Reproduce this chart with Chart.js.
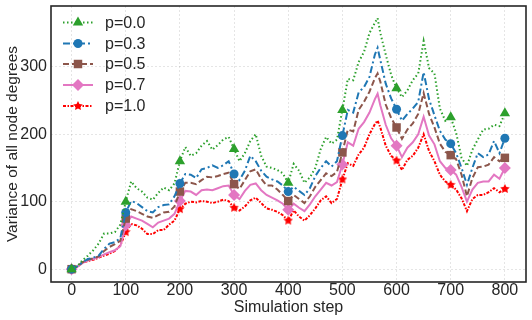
<!DOCTYPE html>
<html>
<head>
<meta charset="utf-8">
<script src="https://cdn.jsdelivr.net/npm/chart.js@4.4.1/dist/chart.umd.min.js"></script>
<style>
  html, body { margin: 0; padding: 0; background: #fff; }
  #wrap { width: 532px; height: 320px; }
</style>
</head>
<body>
<div id="wrap"><canvas id="grafico" width="532" height="320"></canvas></div>
<script>
// passos da simulacao (565 extra para o pico)
const steps = [0,10,20,30,40,50,60,70,80,90,100,110,120,130,140,150,160,170,180,190,200,
  210,220,230,240,250,260,270,280,290,300,310,320,330,340,350,360,370,380,390,400,
  410,420,430,440,450,460,470,480,490,500,510,520,530,540,550,560,565,570,580,590,600,
  610,620,630,640,650,660,670,680,690,700,710,720,730,740,750,760,770,780,790,800];

const p00 = [0,4,13,20,28,38,53,53,55,66,100,
  130,120,115,106,103,113,121,117,127,160,
  181,168,172,183,190,177,184,192,196,178,
  160,172,190,200,168,152,150,147,142,128,
  156,146,128,136,150,178,196,186,192,236,
  282,280,307,322,350,365,372,
  350,318,288,268,255,265,280,290,338,298,290,238,220,225,
  202,165,153,177,192,207,208,214,212,231];

const p03 = [0,4,10,15,17,20,30,38,40,46,84,
  101,98,92,86,84,92,95,96,108,127,
  141,140,135,148,150,154,150,154,160,141,
  132,146,168,160,146,137,133,130,124,115,
  122,116,110,120,138,150,160,152,160,198,
  236,232,262,270,285,318,328,
  310,275,253,237,220,230,238,248,292,252,228,205,192,186,
  172,150,125,150,172,166,170,190,172,194];

const p05 = [0,4,10,14,16,19,27,33,37,42,75,
  89,86,82,78,76,80,84,85,93,115,
  128,128,126,132,137,136,138,141,143,126,
  119,132,145,148,134,124,124,118,110,101,
  110,104,98,108,122,132,142,138,144,173,
  207,204,236,248,263,283,290,
  278,244,224,210,193,207,216,230,261,230,210,186,174,169,
  163,140,108,135,151,152,155,166,160,165];

const p07 = [0,3,9,13,15,18,22,25,28,34,65,
  78,75,72,67,62,69,72,75,82,101,
  116,115,110,117,118,117,120,123,124,110,
  104,116,125,127,117,110,106,102,97,88,
  97,91,86,96,108,118,128,124,129,155,
  188,183,208,218,232,252,260,
  243,214,194,183,166,180,188,200,226,198,185,160,150,147,
  140,122,100,118,128,130,130,140,134,150];

const p10 = [0,3,10,12,14,17,20,23,27,35,55,
  67,65,60,52,52,58,58,66,72,89,
  97,100,99,101,100,98,100,103,101,91,
  87,93,102,106,98,90,88,85,80,72,
  87,78,72,80,90,102,108,98,104,133,
  157,153,170,180,200,215,220,
  210,183,168,161,147,162,168,180,200,175,160,140,130,125,
  118,105,86,104,110,110,114,120,114,119];

const xTicks = [0,100,200,300,400,500,600,700,800];
const yTicks = [0,100,200,300];
const labels = ["p=0.0","p=0.3","p=0.5","p=0.7","p=1.0"];

// marcador estrela vermelho
function starMarker(color, size) {
  const c = document.createElement("canvas");
  c.width = size; c.height = size;
  const g = c.getContext("2d");
  const cx = size / 2, cy = size / 2, R = size / 2, r = R * 0.5;
  g.beginPath();
  for (let i = 0; i < 10; i++) {
    const a = -Math.PI / 2 + i * Math.PI / 5;
    const rr = i % 2 === 0 ? R : r;
    g.lineTo(cx + rr * Math.cos(a), cy + rr * Math.sin(a));
  }
  g.closePath();
  g.fillStyle = color;
  g.fill();
  return c;
}
const redStar = starMarker("#ff0000", 10);

const styles = [
  { color: "#2ca02c", dash: [1.5, 2.5], point: "triangle", r: 6 },
  { color: "#1f77b4", dash: [7, 3, 2, 3], point: "circle", r: 4.5 },
  { color: "#8c564b", dash: [6, 3], point: "rect", r: 6 },
  { color: "#e377c2", dash: [], point: "rectRot", r: 6 },
  { color: "#ff0000", dash: [3, 1.5, 1.5, 1.5], point: redStar, r: 5 },
];
const series = [p00, p03, p05, p07, p10];

const datasets = series.map((vals, k) => ({
  label: labels[k],
  data: vals.map((v, i) => ({ x: steps[i], y: v })),
  borderColor: styles[k].color,
  backgroundColor: styles[k].color,
  borderWidth: 2,
  borderDash: styles[k].dash,
  pointStyle: styles[k].point,
  pointBorderWidth: 0,
  pointRadius: (ctx) => (steps[ctx.dataIndex] % 100 === 0 ? styles[k].r : 0),
  tension: 0,
  fill: false,
}));

// moldura + legenda desenhadas por cima
const framePlugin = {
  id: "frame",
  afterDatasetsDraw(chart) {
    const { ctx, chartArea: a } = chart;
    ctx.save();
    ctx.strokeStyle = "#262626";
    ctx.lineWidth = 1.6;
    ctx.setLineDash([]);
    ctx.strokeRect(a.left, a.top, a.right - a.left, a.bottom - a.top);

    const rows = [22.5, 43.5, 64, 85, 106];
    rows.forEach((y, k) => {
      const st = styles[k];
      ctx.strokeStyle = st.color;
      ctx.fillStyle = st.color;
      ctx.lineWidth = 2;
      ctx.setLineDash(st.dash);
      ctx.beginPath();
      ctx.moveTo(63, y);
      ctx.lineTo(93, y);
      ctx.stroke();
      ctx.setLineDash([]);
      Chart.helpers.drawPoint(ctx, { pointStyle: st.point, radius: st.r, borderWidth: 0, rotation: 0 }, 78, y);
      ctx.fillStyle = "#262626";
      ctx.font = "16px 'Liberation Sans', Arial, sans-serif";
      ctx.textBaseline = "middle";
      ctx.textAlign = "left";
      ctx.fillText(labels[k], 105, y + 1);
    });
    ctx.restore();
  },
};

const font = { family: "'Liberation Sans', Arial, sans-serif", size: 16 };

new Chart(document.getElementById("grafico").getContext("2d"), {
  type: "line",
  data: { datasets },
  options: {
    responsive: false,
    animation: false,
    layout: { padding: { top: 4, right: 4, left: 0, bottom: 0 } },
    plugins: { legend: { display: false }, tooltip: { enabled: false } },
    scales: {
      x: {
        type: "linear",
        min: -38,
        max: 839,
        afterBuildTicks: (s) => { s.ticks = xTicks.map((v) => ({ value: v })); },
        afterFit: (s) => { s.height = 38; s.paddingLeft = 0; s.paddingRight = 0; },
        ticks: { color: "#262626", font, padding: -1, maxRotation: 0 },
        grid: { color: "rgba(0,0,0,0.13)", lineWidth: 0.8, drawTicks: false },
        border: { display: false, dash: [2, 2] },
        title: { display: true, text: "Simulation step", color: "#262626", font, padding: { top: 0, bottom: 3 } },
      },
      y: {
        min: -19,
        max: 390,
        afterBuildTicks: (s) => { s.ticks = yTicks.map((v) => ({ value: v })); },
        afterFit: (s) => { s.width = 51; s.paddingTop = 0; s.paddingBottom = 0; },
        ticks: { color: "#262626", font, padding: 4 },
        grid: { color: "rgba(0,0,0,0.13)", lineWidth: 0.8, drawTicks: false },
        border: { display: false, dash: [2, 2] },
        title: { display: true, text: "Variance of all node degrees", color: "#262626", font: { family: font.family, size: 15.5 }, padding: { top: 3, bottom: 0 } },
      },
    },
  },
  plugins: [framePlugin],
});
</script>
</body>
</html>
